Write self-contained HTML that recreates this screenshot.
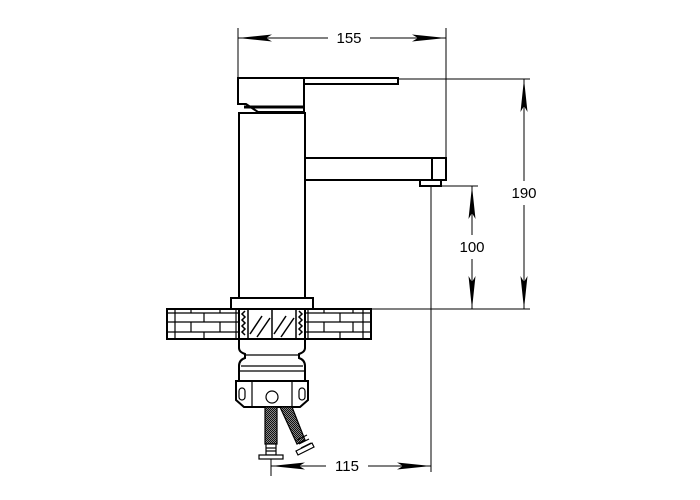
<!DOCTYPE html>
<html><head><meta charset="utf-8"><style>html,body{margin:0;padding:0;background:#fff}svg{display:block}</style></head><body>
<svg width="700" height="500" viewBox="0 0 700 500" xmlns="http://www.w3.org/2000/svg">
<defs>
<pattern id="mesh" width="2" height="2" patternUnits="userSpaceOnUse"><rect width="2" height="2" fill="#888"/><rect width="1" height="1" fill="#111"/><rect x="1" y="1" width="1" height="1" fill="#111"/></pattern>
</defs>
<g fill="none" stroke="#000" stroke-width="1">
<line x1="238" y1="28" x2="238" y2="78"/>
<line x1="446" y1="28" x2="446" y2="158"/>
<line x1="398" y1="79" x2="530" y2="79"/>
<line x1="370" y1="309" x2="530" y2="309"/>
<line x1="442" y1="186" x2="478" y2="186"/>
<line x1="431" y1="186" x2="431" y2="472"/>
<line x1="271" y1="458" x2="271" y2="476"/>
<line x1="238" y1="38" x2="328" y2="38"/><line x1="370" y1="38" x2="446" y2="38"/>
<line x1="524" y1="79" x2="524" y2="181"/><line x1="524" y1="205" x2="524" y2="309"/>
<line x1="472" y1="186" x2="472" y2="235"/><line x1="472" y1="259" x2="472" y2="309"/>
<line x1="271" y1="466" x2="326" y2="466"/><line x1="368" y1="466" x2="431" y2="466"/>
</g>
<g fill="#000">
<polygon points="238,38 272,34.5 266,38 272,41.5"/>
<polygon points="446,38 412,34.5 418,38 412,41.5"/>
<polygon points="524,79 520.5,112 524,106 527.5,112"/>
<polygon points="524,309 520.5,276 524,282 527.5,276"/>
<polygon points="472,186 468.5,219 472,213 475.5,219"/>
<polygon points="472,309 468.5,276 472,282 475.5,276"/>
<polygon points="271,466 305,462.5 299,466 305,469.5"/>
<polygon points="431,466 397,462.5 403,466 397,469.5"/>
</g>
<g font-family="Liberation Sans, sans-serif" font-size="15" fill="#000" text-anchor="middle">
<text x="349" y="43">155</text>
<text x="524" y="198">190</text>
<text x="472" y="252">100</text>
<text x="347" y="471">115</text>
</g>
<g fill="#fff" stroke="#000" stroke-width="2">
<path d="M238,78 H304 V112 H258 L246,104 H238 Z"/>
<rect x="304" y="78" width="94" height="6"/>
<line x1="244" y1="107" x2="304" y2="107" stroke-width="3"/>
<rect x="239" y="113" width="66" height="186"/>
<rect x="305" y="158" width="141" height="22"/>
<line x1="432" y1="158" x2="432" y2="180"/>
<rect x="420" y="180" width="21" height="6"/>
<rect x="231" y="298" width="82" height="11"/>
<rect x="167" y="309" width="204" height="30"/>
</g>
<g stroke="#000" stroke-width="1.2" fill="none">
<line x1="167" y1="313" x2="371" y2="313"/>
<line x1="167" y1="322" x2="371" y2="322"/>
<line x1="167" y1="332" x2="371" y2="332"/>
<line x1="175" y1="309" x2="175" y2="339"/>
<line x1="236" y1="309" x2="236" y2="339"/>
<line x1="308" y1="309" x2="308" y2="339"/>
<line x1="363" y1="309" x2="363" y2="339"/>
<line x1="204" y1="313" x2="204" y2="322"/><line x1="204" y1="332" x2="204" y2="339"/>
<line x1="191" y1="322" x2="191" y2="332"/><line x1="220" y1="322" x2="220" y2="332"/>
<line x1="340" y1="313" x2="340" y2="322"/><line x1="340" y1="332" x2="340" y2="339"/>
<line x1="353" y1="322" x2="353" y2="332"/><line x1="324" y1="322" x2="324" y2="332"/>
<line x1="191" y1="309" x2="191" y2="313"/><line x1="220" y1="309" x2="220" y2="313"/>
<line x1="324" y1="309" x2="324" y2="313"/><line x1="353" y1="309" x2="353" y2="313"/>
</g>
<rect x="239" y="309" width="66" height="30" fill="#fff" stroke="#000" stroke-width="2"/>
<g stroke="#000" stroke-width="1.5" fill="none">
<path d="M245,311 l-3,3 3,3 -3,3 3,3 -3,3 3,3 -3,3 3,3"/>
<path d="M299,311 l3,3 -3,3 3,3 -3,3 3,3 -3,3 3,3 -3,3"/>
<line x1="248" y1="310" x2="248" y2="339"/><line x1="296" y1="310" x2="296" y2="339"/>
<line x1="272" y1="310" x2="272" y2="339"/>
<line x1="250" y1="334" x2="262" y2="316"/><line x1="257" y1="337" x2="270" y2="318"/>
<line x1="274" y1="334" x2="286" y2="316"/><line x1="281" y1="337" x2="294" y2="318"/>
</g>
<g fill="#fff" stroke="#000" stroke-width="2">
<path d="M239,339 V348 Q239,352 245,354 V358 Q239,360 239,366 V381 H305 V366 Q305,360 299,358 V354 Q305,352 305,348 V339 Z"/>
<line x1="245" y1="355" x2="299" y2="355" stroke-width="1.2"/>
<line x1="241" y1="366" x2="303" y2="366" stroke-width="1.2"/>
<line x1="239" y1="371" x2="305" y2="371" stroke-width="1.2"/>
<path d="M236,381 H308 V400 L300,407 H244 L236,400 Z"/>
<line x1="252" y1="382" x2="252" y2="406" stroke-width="1.2"/>
<line x1="292" y1="382" x2="292" y2="406" stroke-width="1.2"/>
<rect x="239" y="388" width="6" height="12" rx="3" stroke-width="1.2"/>
<rect x="299" y="388" width="6" height="12" rx="3" stroke-width="1.2"/>
<circle cx="272" cy="397" r="6" stroke-width="1.2"/>
</g>
<g stroke="#000" stroke-width="1.2">
<path d="M280,407 L292,407 L305,440 L297,444 Z" fill="url(#mesh)"/>
<path d="M297,440 l10,-5 M299,444 l10,-5 M301,448 l10,-5 M303,452 l10,-5" fill="none"/>
<path d="M296,451 L312,443 L314,447 L298,455 Z" fill="#fff"/>
<rect x="265" y="407" width="12" height="37" fill="url(#mesh)"/>
<rect x="266" y="444" width="10" height="11" fill="#fff"/>
<line x1="266" y1="448" x2="276" y2="448"/><line x1="266" y1="451" x2="276" y2="451"/>
<rect x="259" y="455" width="24" height="4" fill="#fff"/>
</g>
</svg>
</body></html>
